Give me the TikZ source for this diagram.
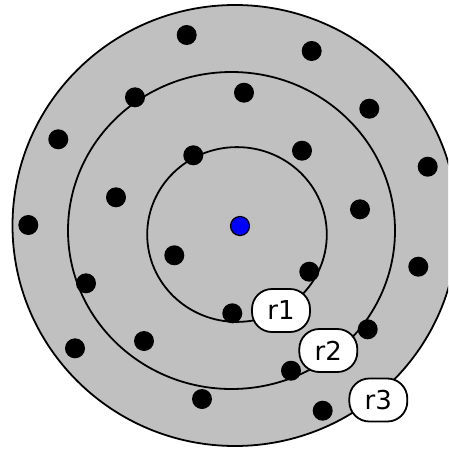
\documentclass[tikz,border=0pt]{standalone}
\usepackage{fontspec}
\setmainfont{DejaVu Sans}
\usepackage{tikz}
\usetikzlibrary{positioning}
\definecolor{ringgray}{RGB}{192,192,192}
\definecolor{centerblue}{RGB}{0,0,255}

\begin{document}
\begin{tikzpicture}[
  x=1pt,y=-1pt,
  ring/.style={draw=black,line width=1.8pt},
  dot/.style={circle,fill=black,inner sep=0pt,minimum size=20pt},
  hub/.style={circle,fill=centerblue,draw=black,line width=1.2pt,inner sep=0pt,minimum size=19pt},
  tag/.style={draw=black,fill=white,line width=1.8pt,rounded corners=20pt,
              minimum width=58pt,minimum height=43pt,inner sep=0pt,
              font=\fontsize{26}{26}\selectfont}
]
\useasboundingbox (0,0) rectangle (448,450);
\clip (0,0) rectangle (448,450);
\fill[white] (0,0) rectangle (448,450);
% rings
\filldraw[ring,fill=ringgray] (235,225.5) ellipse (222.5pt and 220.5pt);
\draw[ring] (231.5,230.5) ellipse (163.5pt and 158.5pt);
\draw[ring] (237,234.5) ellipse (89.8pt and 87.4pt);
% points
\foreach \px/\py [count=\i] in {186.7/35, 311.7/51, 135/97.3, 244/92.7, 369.3/108.7,
    58.3/139.3, 193.3/155.3, 302/150.7, 427.7/166.7, 116/197.3, 360/209.3,
    28.3/225, 174.3/255.3, 309.3/271.7, 418.3/266.7, 86/283.3, 232.3/313.3,
    144/341, 367.7/329.3, 75/348.3, 291/370.7, 202/399, 322.7/410.7}
  \node[dot] (p\i) at (\px,\py) {};
\node[hub] (center) at (240,226) {};
% radius labels
\node[tag] (r1) at (281,310.5) {r1};
\node[tag] (r2) at (328.3,350.5) {r2};
\node[tag] (r3) at (378.3,400) {r3};
\end{tikzpicture}
\end{document}
